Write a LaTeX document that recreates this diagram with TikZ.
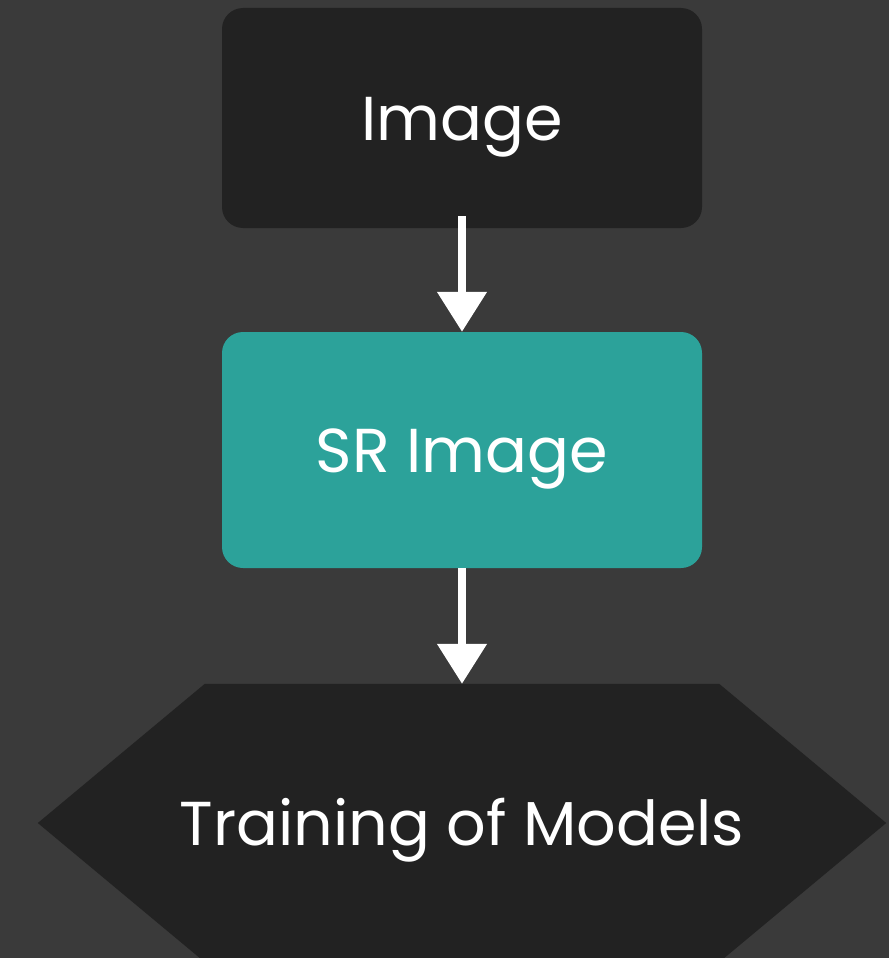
\documentclass[tikz,border=0pt]{standalone}
\usepackage{fontspec}
\setmainfont{Poppins}
\usetikzlibrary{arrows.meta}

\definecolor{canvas}{RGB}{58,58,58}
\definecolor{panel}{RGB}{34,34,34}
\definecolor{teal}{RGB}{44,162,154}

\tikzset{
  label/.style={text=white, font=\fontsize{62}{68}\selectfont,
    text height=44pt, text depth=0pt, inner sep=0pt},
  box/.style={label, rectangle, rounded corners=21pt, minimum width=480pt},
  flow/.style={draw=white, line width=8pt,
    -{Triangle[width=48pt,length=40pt]}},
}

\begin{document}
\begin{tikzpicture}[x=1pt,y=-1pt]
  % canvas
  \fill[canvas] (0,0) rectangle (889,958);
  \useasboundingbox (0,0) rectangle (889,958);

  % boxes
  \node[box, fill=panel, minimum height=220pt] (img) at (462,118) {Image};
  \node[box, fill=teal, minimum height=236pt] (sr) at (462,450) {SR Image};

  % final stage: hexagon behind its label
  \node[minimum width=514pt, minimum height=278pt, inner sep=0pt] (train) at (462,823) {};
  \fill[panel] (train.north west) -- (train.north east) -- ([xshift=167pt]train.east)
    -- (train.south east) -- (train.south west) -- ([xshift=-167pt]train.west) -- cycle;
  \node[label] (trainlabel) at (train.center) {Training of Models};

  % connectors
  \draw[flow] ([yshift=12pt]img.south) -- (sr.north);
  \draw[flow] (sr.south) -- (train.north);
\end{tikzpicture}
\end{document}
